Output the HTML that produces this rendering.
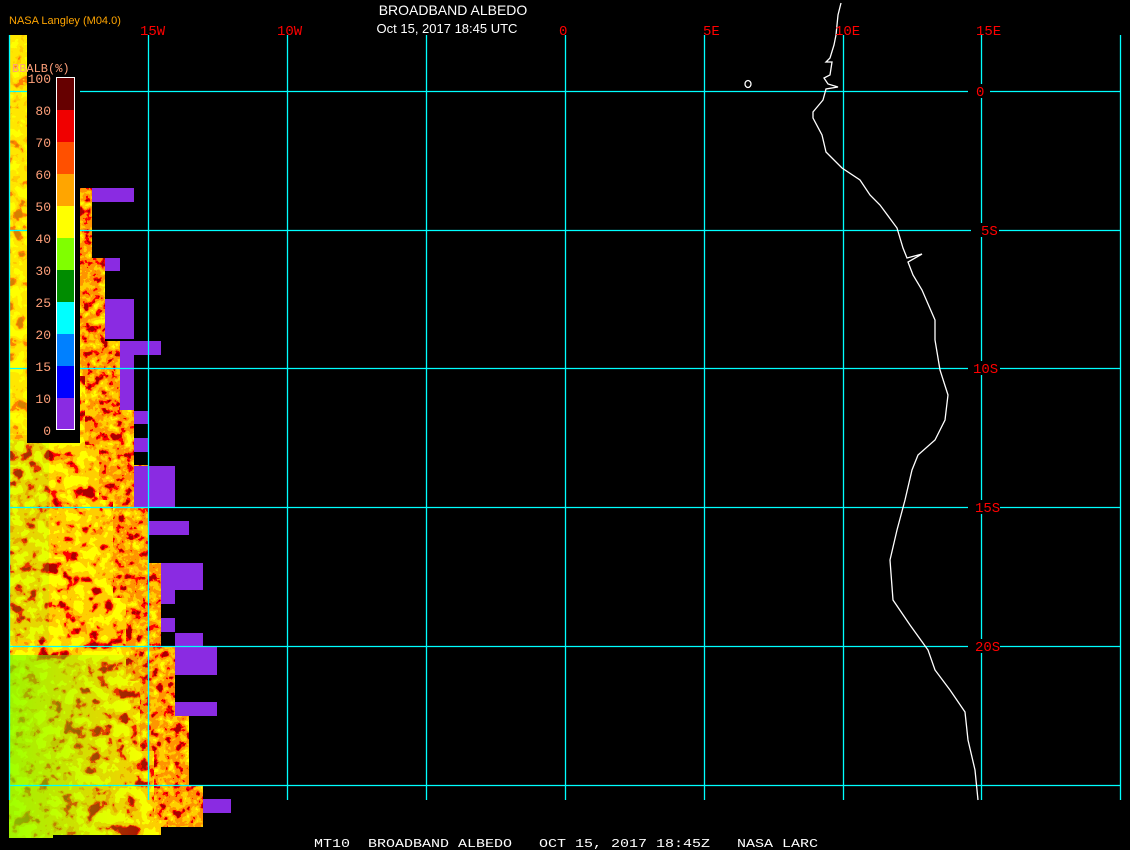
<!DOCTYPE html>
<html><head><meta charset="utf-8"><style>
html,body{margin:0;padding:0;background:#000;width:1130px;height:850px;overflow:hidden}
svg{display:block}
</style></head><body>
<svg width="1130" height="850" xmlns="http://www.w3.org/2000/svg" font-family="Liberation Sans, sans-serif">
<defs>
<filter id="noise" x="0" y="0" width="100%" height="100%" filterUnits="userSpaceOnUse">
<feTurbulence type="fractalNoise" baseFrequency="0.08" numOctaves="3" seed="4"/>
<feColorMatrix type="matrix" values="0.33 0.33 0.33 0 0 0.33 0.33 0.33 0 0 0.33 0.33 0.33 0 0 0 0 0 0 1"/>
<feComponentTransfer>
<feFuncR type="linear" slope="3" intercept="-1"/>
<feFuncG type="linear" slope="3" intercept="-1"/>
<feFuncB type="linear" slope="3" intercept="-1"/>
</feComponentTransfer>
<feComponentTransfer>
<feFuncR type="discrete" tableValues="0.4 1 1 1 1 1 1 1"/>
<feFuncG type="discrete" tableValues="0 0 0.3 0.62 0.62 1 1 1"/>
<feFuncB type="discrete" tableValues="0 0 0 0 0 0 0 0"/>
<feFuncA type="table" tableValues="1 1"/>
</feComponentTransfer>
</filter>
<filter id="rnoise" x="0" y="0" width="100%" height="100%" filterUnits="userSpaceOnUse">
<feTurbulence type="fractalNoise" baseFrequency="0.12" numOctaves="3" seed="9"/>
<feColorMatrix type="matrix" values="0.33 0.33 0.33 0 0 0.33 0.33 0.33 0 0 0.33 0.33 0.33 0 0 0 0 0 0 1"/>
<feComponentTransfer>
<feFuncR type="linear" slope="3" intercept="-1"/>
<feFuncG type="linear" slope="3" intercept="-1"/>
<feFuncB type="linear" slope="3" intercept="-1"/>
</feComponentTransfer>
<feComponentTransfer>
<feFuncR type="discrete" tableValues="0.4 1 1 1 1 1 1"/>
<feFuncG type="discrete" tableValues="0 0 0.3 0.3 0.62 0.62 1"/>
<feFuncB type="discrete" tableValues="0 0 0 0 0 0 0"/>
<feFuncA type="table" tableValues="1 1"/>
</feComponentTransfer>
</filter>
<clipPath id="data">
<path d="M9,35 H27 V443 H80 V188 H92 V258 H105 V341 H120 V410 H134 V465 H148 V563 H161 V646 H175 V716 H189 V785 H203 V827 H161 V835 H53 V838 H9 Z"/>
</clipPath>
<mask id="edge" maskUnits="userSpaceOnUse" x="0" y="0" width="300" height="850">
<path d="M80,188 H92 V258 H105 V341 H120 V410 H134 V465 H148 V563 H161 V646 H175 V716 H189 V785 H203 V827" fill="none" stroke="#fff" stroke-width="70"/>
</mask>
<linearGradient id="grn" x1="0" x2="1" y1="0" y2="0">
<stop offset="0" stop-color="#80ff00" stop-opacity="0.75"/>
<stop offset="0.55" stop-color="#80ff00" stop-opacity="0.3"/>
<stop offset="1" stop-color="#80ff00" stop-opacity="0"/>
</linearGradient>
</defs>
<g clip-path="url(#data)">
<rect x="0" y="30" width="240" height="820" filter="url(#noise)"/>
<g mask="url(#edge)"><rect x="0" y="30" width="240" height="820" filter="url(#rnoise)"/></g>
<rect x="9" y="655" width="150" height="185" fill="url(#grn)"/>
<rect x="9" y="440" width="40" height="200" fill="#80ff00" opacity="0.2"/>
<rect x="9" y="35" width="18" height="400" fill="#ffff00" opacity="0.5"/>
</g>
<g fill="#8a2be2">
<rect x="92" y="188" width="42" height="14"/>
<rect x="105" y="258" width="15" height="13"/>
<rect x="105" y="299" width="29" height="40"/>
<rect x="120" y="341" width="41" height="14"/>
<rect x="120" y="355" width="14" height="55"/>
<rect x="134" y="411" width="14" height="13"/>
<rect x="134" y="438" width="14" height="14"/>
<rect x="134" y="466" width="41" height="41"/>
<rect x="148" y="521" width="41" height="14"/>
<rect x="161" y="563" width="42" height="27"/>
<rect x="161" y="590" width="14" height="14"/>
<rect x="161" y="618" width="14" height="14"/>
<rect x="175" y="633" width="28" height="13"/>
<rect x="175" y="646" width="42" height="29"/>
<rect x="175" y="702" width="42" height="14"/>
<rect x="203" y="799" width="28" height="14"/>
</g>
<g stroke="#00ffff" stroke-width="1.3" fill="none">
<path d="M9.5,35V800M148.5,35V800M287.5,35V800M426.5,35V800M565.5,35V800M704.5,35V800M843.5,35V800M981.5,35V800M1120.5,35V800"/>
<path d="M9,91.5H1120M9,230.5H1120M9,368.5H1120M9,507.5H1120M9,646.5H1120M9,785.5H1120"/>
</g>
<rect x="27" y="60" width="53" height="383" fill="#000"/>
<g>
<rect x="56" y="77" width="19" height="353" fill="#fff"/>
<rect x="57" y="78" width="17" height="32" fill="#660000"/>
<rect x="57" y="110" width="17" height="32" fill="#f00000"/>
<rect x="57" y="142" width="17" height="32" fill="#ff5000"/>
<rect x="57" y="174" width="17" height="32" fill="#ffa500"/>
<rect x="57" y="206" width="17" height="32" fill="#ffff00"/>
<rect x="57" y="238" width="17" height="32" fill="#80ff00"/>
<rect x="57" y="270" width="17" height="32" fill="#008c00"/>
<rect x="57" y="302" width="17" height="32" fill="#00ffff"/>
<rect x="57" y="334" width="17" height="32" fill="#0080ff"/>
<rect x="57" y="366" width="17" height="32" fill="#0000ff"/>
<rect x="57" y="398" width="17" height="31" fill="#8a2be2"/>
</g>
<g fill="#ffa07a" font-size="13" text-anchor="end" font-family="Liberation Mono, monospace">
<text x="51" y="83">100</text><text x="51" y="115">80</text><text x="51" y="147">70</text><text x="51" y="179">60</text>
<text x="51" y="211">50</text><text x="51" y="243">40</text><text x="51" y="275">30</text><text x="51" y="307">25</text>
<text x="51" y="339">20</text><text x="51" y="371">15</text><text x="51" y="403">10</text><text x="51" y="435">0</text>
<text x="12" y="72" text-anchor="start" font-size="12">BBALB(%)</text>
</g>
<g fill="none" stroke="#fff" stroke-width="1.3">
<polyline points="841,3 838,15 836,35 834,45 830,58 826,62 832,62 830,75 824,78 828,84 838,87 826,89 823,100 813,112 813,118 822,135 826,152 842,168 860,180 870,195 880,205 897,228 903,248 907,258 922,254 908,262 913,275 922,290 935,320 935,340 940,370 948,395 945,420 935,440 918,455 912,470 905,500 897,530 890,560 893,600 910,625 928,650 935,670 950,690 965,712 968,740 975,770 978,800"/>
<ellipse cx="748" cy="84" rx="3" ry="3.5"/>
</g>
<g fill="#ff0000" font-size="14" font-family="Liberation Mono, monospace">
<text x="140" y="35">15W</text><text x="277" y="35">10W</text><text x="559" y="35">0</text>
<text x="703" y="35">5E</text><text x="835" y="35">10E</text><text x="976" y="35">15E</text>
</g>
<g fill="#000"><rect x="968" y="84" width="22" height="14"/><rect x="971" y="223" width="28" height="14"/><rect x="968" y="361" width="32" height="14"/><rect x="968" y="500" width="32" height="14"/><rect x="968" y="639" width="32" height="14"/></g>
<g fill="#ff0000" font-size="14" font-family="Liberation Mono, monospace">
<text x="976" y="96">0</text><text x="981" y="235">5S</text><text x="973" y="373">10S</text><text x="975" y="512">15S</text><text x="975" y="651">20S</text>
</g>
<text x="9" y="24" fill="#ffa500" font-size="11">NASA Langley (M04.0)</text>
<text x="453" y="15" fill="#fff" font-size="14" text-anchor="middle">BROADBAND ALBEDO</text>
<text x="447" y="33" fill="#fff" font-size="13" text-anchor="middle">Oct 15, 2017 18:45 UTC</text>
<text x="314" y="847" fill="#fff" font-size="12" font-family="Liberation Mono, monospace" textLength="504" lengthAdjust="spacingAndGlyphs" xml:space="preserve">MT10  BROADBAND ALBEDO   OCT 15, 2017 18:45Z   NASA LARC</text>
</svg>
</body></html>
